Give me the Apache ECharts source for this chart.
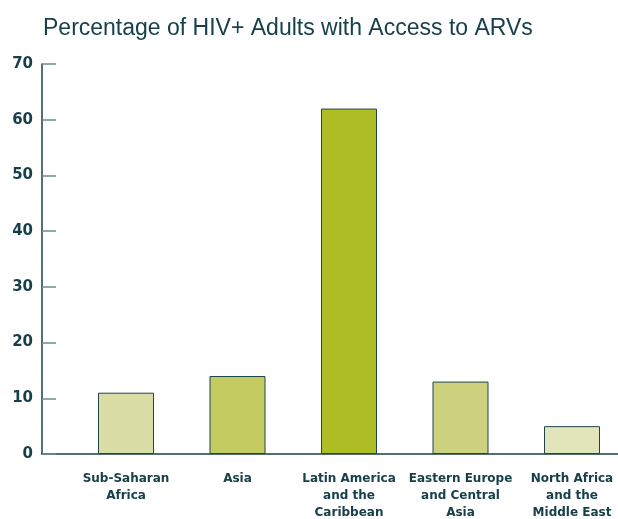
<!DOCTYPE html>
<html>
<head>
<meta charset="utf-8">
<script src="https://cdn.jsdelivr.net/npm/echarts@6/dist/echarts.min.js"></script>
<style>
  html, body { margin: 0; padding: 0; background: #fff; }
  #chart { width: 618px; height: 519px; }
</style>
</head>
<body>
<div id="chart"></div>
<script>
// chart data
const regions = [
  "Sub-Saharan\nAfrica",
  "Asia",
  "Latin America\nand the\nCaribbean",
  "Eastern Europe\nand Central\nAsia",
  "North Africa\nand the\nMiddle East",
];
const accessPct = [11, 14, 62, 13, 5];
const yTicks = [0, 10, 20, 30, 40, 50, 60, 70];

// one fill per bar
const barColors = ["#dadea6", "#c4cb61", "#adbd23", "#cdd17e", "#e2e5b9"];
const ink = "#17404a";

const chart = echarts.init(document.getElementById("chart"));
chart.setOption({
  animation: false,
  title: {
    text: "Percentage of HIV+ Adults with Access to ARVs",
    left: 38,
    top: 12,
    textStyle: {
      fontFamily: "Liberation Sans",
      fontSize: 23,
      fontWeight: "normal",
      color: ink,
    },
  },
  // grid 0 holds the visible axes, grid 1 (first to last bar centre) holds the bars
  grid: [
    { left: 42, right: 0, top: 64, height: 390, outerBoundsMode: "none" },
    { left: 126, width: 446, top: 64, height: 390, outerBoundsMode: "none" },
  ],
  xAxis: [
    {
      gridIndex: 0,
      type: "category",
      data: regions,
      axisLine: { show: true, lineStyle: { color: ink, width: 1.5 } },
      axisTick: { show: false },
      axisLabel: { show: false },
    },
    {
      gridIndex: 1,
      type: "category",
      data: regions,
      boundaryGap: false,
      axisLine: { show: false },
      axisTick: { show: false },
      axisLabel: {
        interval: 0,
        margin: 16,
        color: ink,
        fontFamily: "DejaVu Sans",
        fontWeight: "bold",
        fontSize: 12,
        lineHeight: 17,
      },
    },
  ],
  yAxis: [
    {
      gridIndex: 0,
      type: "value",
      min: yTicks[0],
      max: yTicks[yTicks.length - 1],
      interval: yTicks[1] - yTicks[0],
      axisLine: { show: true, lineStyle: { color: ink, width: 1.5 } },
      axisTick: {
        show: true,
        inside: true,
        length: 14,
        lineStyle: { color: "#6f8c93", width: 1.5 },
      },
      axisLabel: {
        margin: 9,
        color: ink,
        fontFamily: "DejaVu Sans",
        fontWeight: "bold",
        fontSize: 15,
      },
      splitLine: { show: false },
    },
    {
      gridIndex: 1,
      type: "value",
      min: yTicks[0],
      max: yTicks[yTicks.length - 1],
      show: false,
      splitLine: { show: false },
    },
  ],
  series: [
    {
      type: "bar",
      xAxisIndex: 1,
      yAxisIndex: 1,
      barWidth: 56,
      clip: false,
      data: accessPct.map((v, i) => ({
        value: v,
        itemStyle: { color: barColors[i] },
      })),
      itemStyle: { borderColor: "#21454f", borderWidth: 1 },
    },
  ],
});
</script>
</body>
</html>
